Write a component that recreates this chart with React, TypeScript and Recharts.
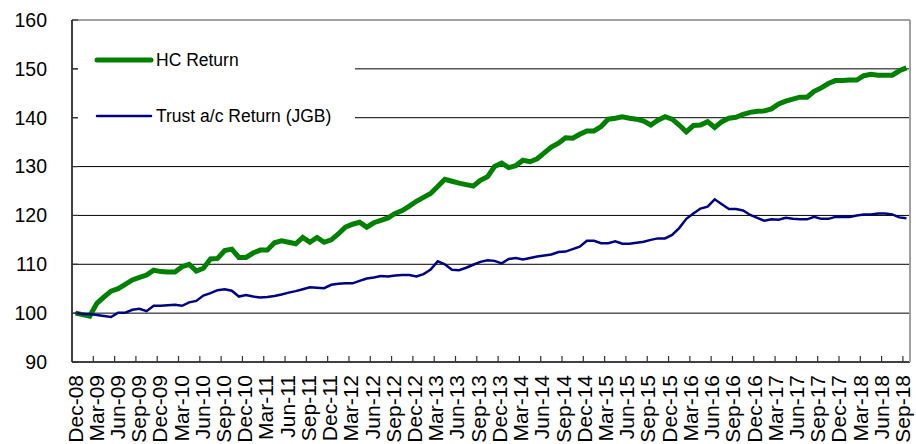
import React from 'react';
import { LineChart, Line, XAxis, YAxis, CartesianGrid, Legend } from 'recharts';

const MONTH_NAMES = ['Jan', 'Feb', 'Mar', 'Apr', 'May', 'Jun', 'Jul', 'Aug', 'Sep', 'Oct', 'Nov', 'Dec'];
// Monthly categories Dec-08 .. Sep-18
const months: string[] = Array.from({ length: 118 }, (_, k) => {
  const m = (11 + k) % 12;
  const y = 8 + Math.floor((11 + k) / 12);
  return `${MONTH_NAMES[m]}-${String(y).padStart(2, '0')}`;
});

const hcReturn = [
  100.0, 99.7, 99.4, 102.0, 103.3, 104.5, 105.0, 105.9, 106.8, 107.3,
  107.8, 108.8, 108.5, 108.4, 108.4, 109.5, 110.0, 108.6, 109.2, 111.1,
  111.2, 112.8, 113.1, 111.4, 111.4, 112.3, 112.9, 112.9, 114.4, 114.8,
  114.5, 114.2, 115.5, 114.5, 115.5, 114.5, 115.0, 116.2, 117.6, 118.2,
  118.6, 117.6, 118.5, 119.0, 119.5, 120.4, 121.0, 121.9, 122.9, 123.7,
  124.5, 125.9, 127.4, 127.0, 126.6, 126.3, 126.0, 127.2, 127.9, 130.0,
  130.7, 129.8, 130.2, 131.3, 131.0, 131.6, 132.8, 134.0, 134.8, 135.9,
  135.8, 136.6, 137.3, 137.3, 138.2, 139.7, 139.9, 140.2, 139.9, 139.7,
  139.3, 138.5, 139.5, 140.2, 139.7, 138.5, 137.1, 138.4, 138.5, 139.2,
  138.0, 139.2, 139.9, 140.1, 140.7, 141.1, 141.3, 141.4, 141.8, 142.8,
  143.4, 143.8, 144.2, 144.2, 145.4, 146.1, 147.0, 147.6, 147.6, 147.7,
  147.7, 148.6, 148.9, 148.7, 148.7, 148.7, 149.6, 150.2,
];

const trustReturn = [
  100.1, 99.8, 99.8, 99.6, 99.4, 99.2, 100.1, 100.1, 100.7, 100.9,
  100.4, 101.5, 101.5, 101.6, 101.7, 101.5, 102.2, 102.5, 103.6, 104.1,
  104.7, 104.9, 104.6, 103.4, 103.7, 103.4, 103.2, 103.3, 103.5, 103.8,
  104.2, 104.5, 104.9, 105.3, 105.2, 105.1, 105.8, 106.0, 106.1, 106.1,
  106.6, 107.1, 107.3, 107.6, 107.5, 107.7, 107.8, 107.8, 107.5, 108.0,
  108.9, 110.6, 110.0, 108.9, 108.8, 109.3, 109.9, 110.5, 110.8, 110.7,
  110.2, 111.1, 111.3, 111.0, 111.3, 111.6, 111.8, 112.0, 112.5, 112.6,
  113.1, 113.6, 114.8, 114.8, 114.3, 114.3, 114.7, 114.2, 114.2, 114.4,
  114.6, 115.0, 115.3, 115.3, 116.0, 117.4, 119.3, 120.4, 121.4, 121.8,
  123.3, 122.3, 121.3, 121.3, 121.0, 120.1, 119.5, 118.9, 119.2, 119.1,
  119.5, 119.3, 119.2, 119.2, 119.7, 119.3, 119.3, 119.7, 119.7, 119.7,
  120.0, 120.2, 120.2, 120.4, 120.4, 120.2, 119.6, 119.4,
];

const yTicks = [90, 100, 110, 120, 130, 140, 150, 160];
// a label / tick mark every third month (Dec-08, Mar-09, ... Sep-18)
const xTickIndexes = months.map((_, i) => i).filter((i) => i % 3 === 0);

const SERIES = [
  { key: 'hc', name: 'HC Return', color: '#008000', width: 5 },
  { key: 'trust', name: 'Trust a/c Return (JGB)', color: '#000080', width: 2.5 },
];

// each month sits in the middle of its category slot (slot i spans [i, i+1])
const data = months.map((m, i) => ({ month: m, pos: i + 0.5, hc: hcReturn[i], trust: trustReturn[i] }));

const FONT = '"Liberation Sans", Arial, sans-serif';
const AXIS_COLOR = '#404040';
const TICK_COLOR = '#333';
const FRAME_COLOR = '#a0a0a0';

const XTick = (props: any) => {
  const { x, y, payload } = props;
  const j = payload.value as number;
  const label = months[j];
  if (!label) return null;
  // label centred on the category slot (half a slot right of the boundary tick)
  const slot = props.slotWidth ?? 7.1;
  const lx = x + slot / 2 - 0.55 - j * 0.0287;
  return (
    <text
      x={0}
      y={0}
      transform={`translate(${lx}, ${y}) rotate(-90)`}
      textAnchor="end"
      dominantBaseline="central"
      fontSize={21}
      fontFamily={FONT}
      fill="#000"
    >
      {label}
    </text>
  );
};

const LegendContent = () => (
  <svg width={277} height={120} style={{ display: 'block' }}>
    {SERIES.map((s, i) => {
      const cy = 30 + i * 56;
      return (
        <g key={s.key}>
          <line x1={19} x2={73} y1={cy} y2={cy} stroke={s.color} strokeWidth={s.width} strokeLinecap="round" />
          <text x={78} y={cy} dominantBaseline="central" fontSize={17.5} fontFamily={FONT} fill="#000">
            {s.name}
          </text>
        </g>
      );
    })}
  </svg>
);

const CHART_W = 916;
const CHART_H = 444;
const MARGIN = { top: 19, right: 5, bottom: 0, left: 0 };
const Y_AXIS_W = 72;
const SLOT = (CHART_W - MARGIN.right - 1 - Y_AXIS_W) / months.length;

export default function App() {
  return (
    <div style={{ position: 'absolute', left: 0, top: 0, width: CHART_W, height: CHART_H, background: '#fff' }}>
      <LineChart width={CHART_W} height={CHART_H} data={data} margin={MARGIN}>
        <CartesianGrid horizontal vertical={false} stroke="#000" strokeWidth={1} />
        <XAxis
          dataKey="pos"
          type="number"
          domain={[0, months.length]}
          ticks={xTickIndexes}
          interval={0}
          allowDataOverflow
          height={82}
          tickSize={-6}
          tickMargin={19}
          tickLine={{ stroke: TICK_COLOR, strokeWidth: 1.2 }}
          tick={<XTick slotWidth={SLOT} />}
          axisLine={{ stroke: AXIS_COLOR, strokeWidth: 2 }}
        />
        <XAxis
          xAxisId="top"
          orientation="top"
          dataKey="pos"
          type="number"
          domain={[0, months.length]}
          allowDataOverflow
          height={1}
          tick={false}
          tickLine={false}
          axisLine={{ stroke: FRAME_COLOR, strokeWidth: 2 }}
        />
        <YAxis
          domain={[90, 160]}
          ticks={yTicks}
          width={Y_AXIS_W}
          tickSize={-6}
          tickMargin={31}
          tickLine={{ stroke: TICK_COLOR, strokeWidth: 1.2 }}
          axisLine={{ stroke: AXIS_COLOR, strokeWidth: 2 }}
          tick={{ fontSize: 19.5, fontFamily: FONT, fill: '#000' }}
          allowDataOverflow
        />
        <YAxis
          yAxisId="right"
          orientation="right"
          domain={[90, 160]}
          ticks={yTicks}
          width={1}
          tick={false}
          tickLine={false}
          axisLine={{ stroke: FRAME_COLOR, strokeWidth: 2 }}
        />
        <Legend
          layout="vertical"
          align="center"
          verticalAlign="middle"
          content={<LegendContent />}
          wrapperStyle={{ left: 78, top: 30, width: 277, height: 120, background: '#fff' }}
        />
        {SERIES.map((s) => (
          <Line
            key={s.key}
            type="linear"
            dataKey={s.key}
            name={s.name}
            stroke={s.color}
            strokeWidth={s.width}
            dot={false}
            activeDot={false}
            isAnimationActive={false}
          />
        ))}
      </LineChart>
    </div>
  );
}
